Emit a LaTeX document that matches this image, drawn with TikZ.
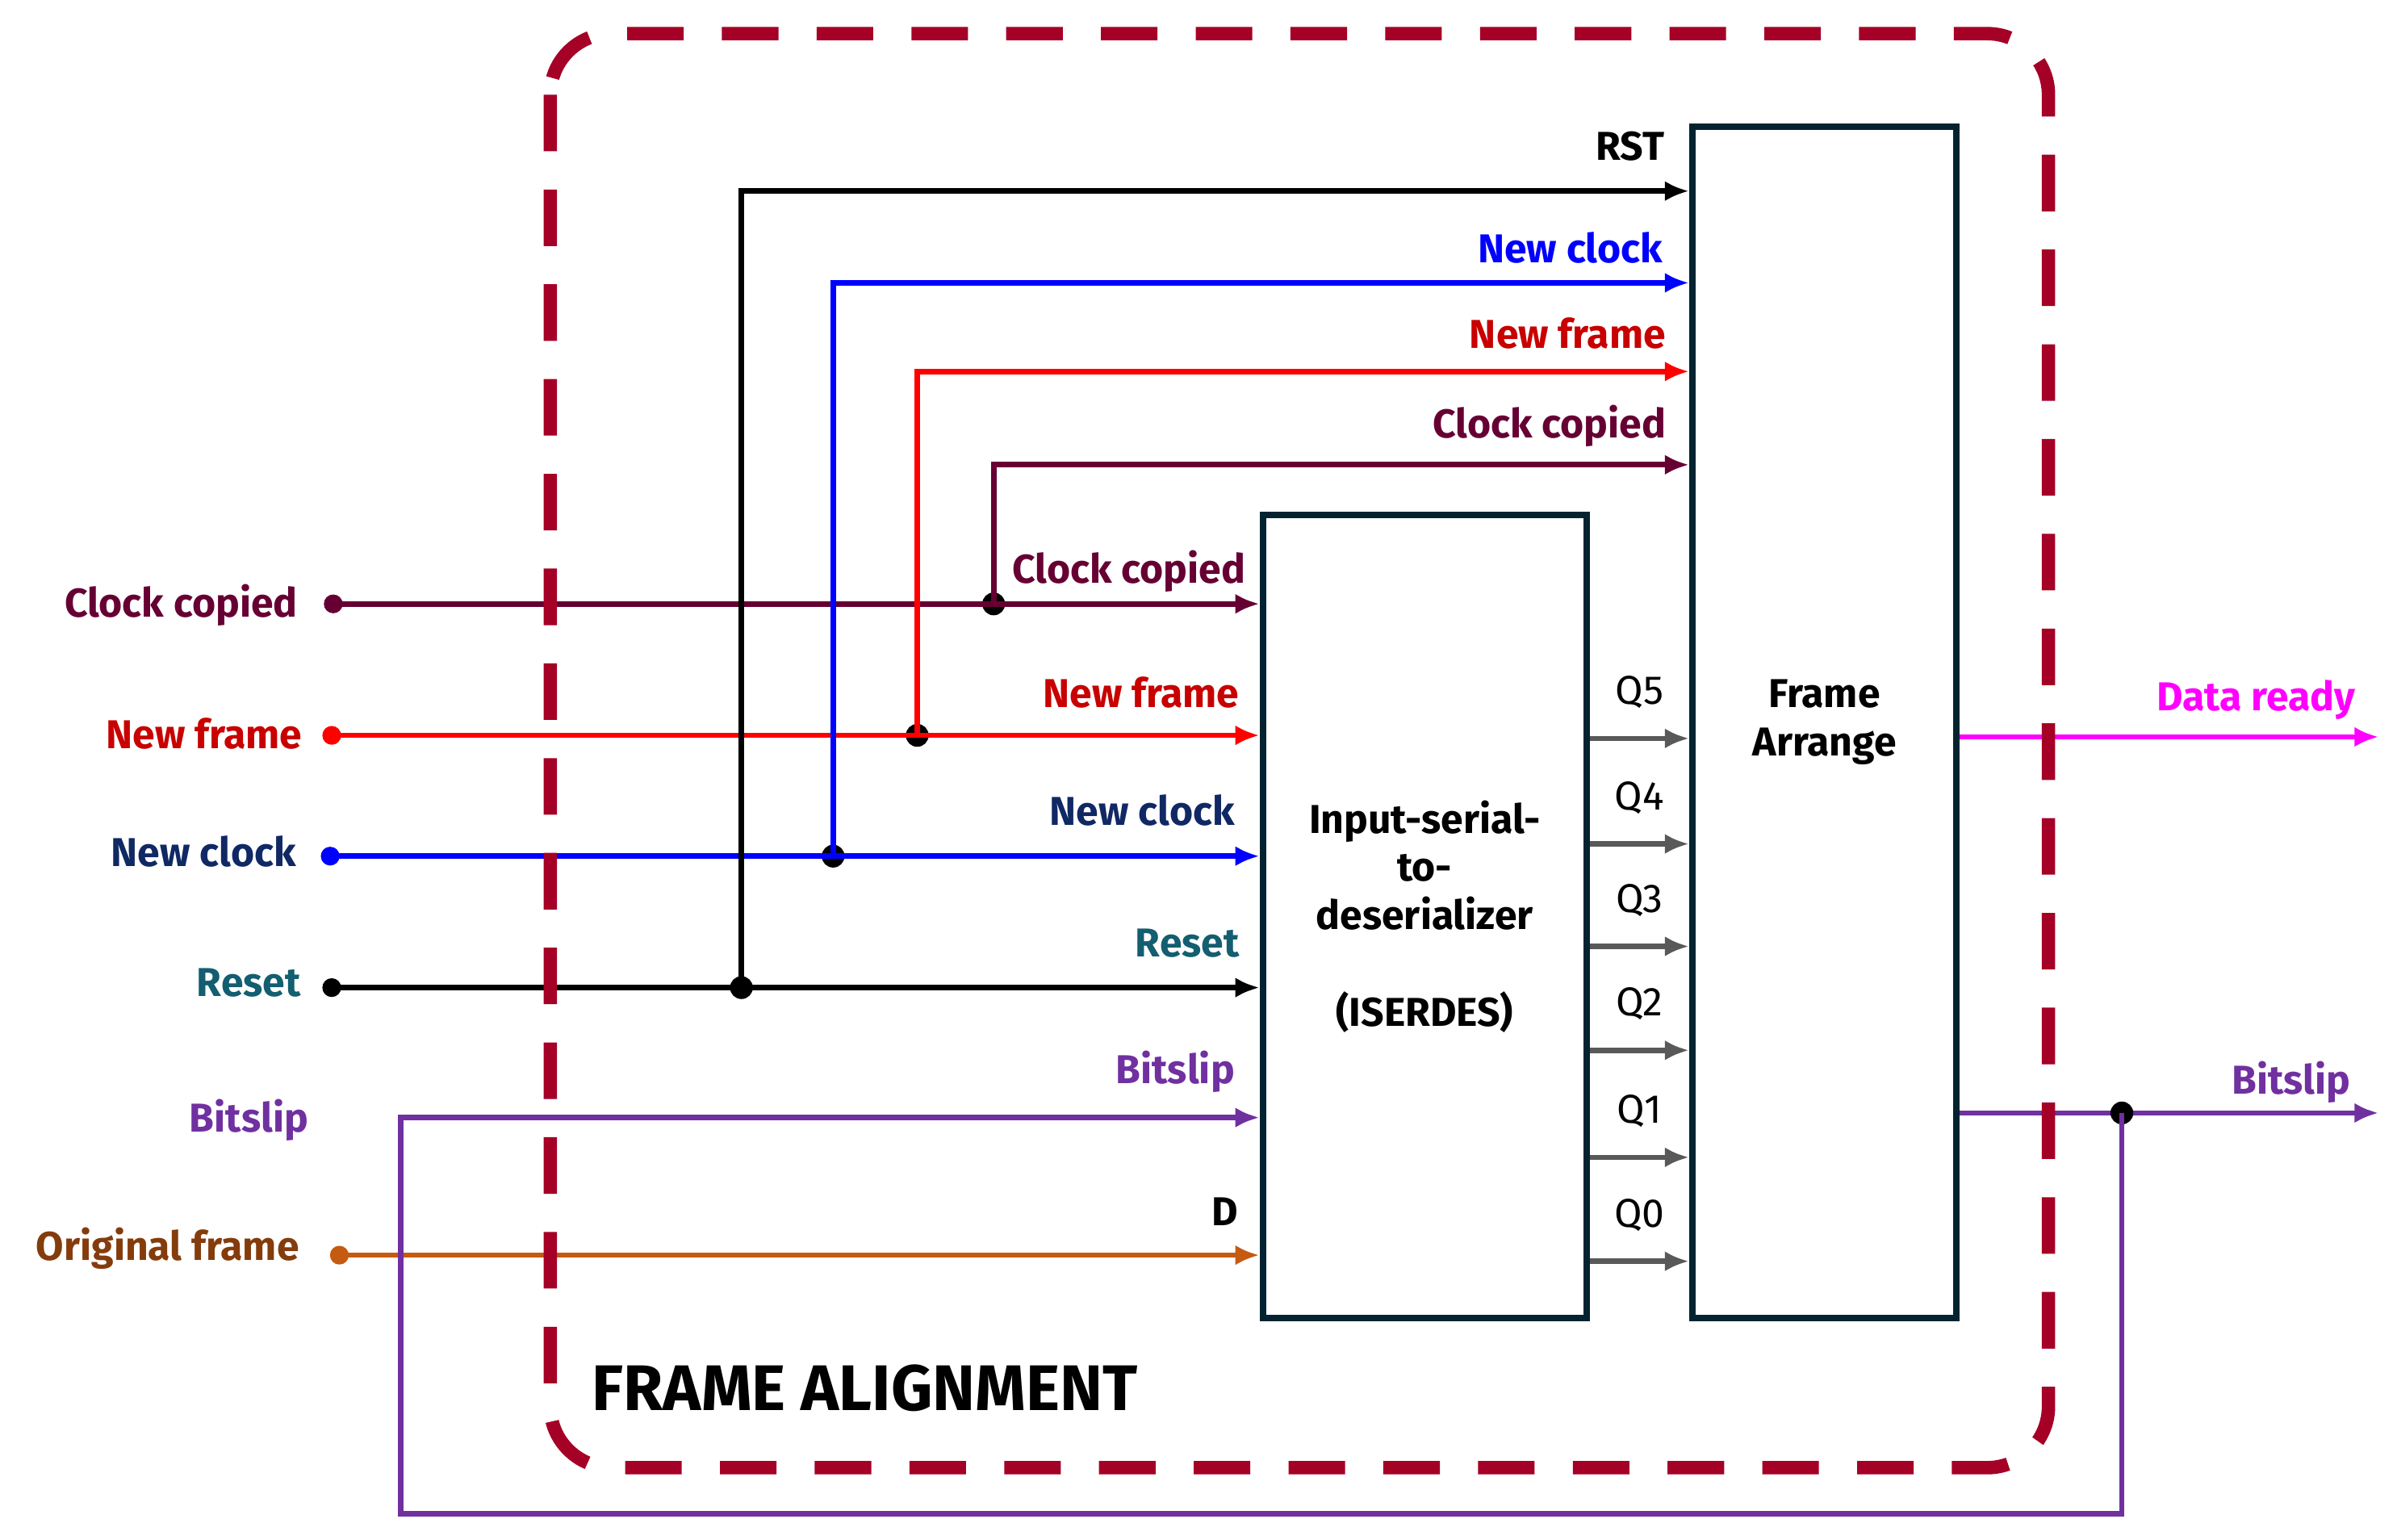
\documentclass[tikz,border=0pt]{standalone}
\usepackage{fontspec}
\setmainfont{Fira Sans}
\usepackage{xcolor}
\usetikzlibrary{arrows.meta,positioning}

\definecolor{alignred}{RGB}{165,0,38}
\definecolor{boxnavy}{RGB}{3,35,48}
\definecolor{clkcopy}{RGB}{102,0,51}
\definecolor{nfrlabel}{RGB}{200,0,0}
\definecolor{nclklabel}{RGB}{16,40,100}
\definecolor{rstlabel}{RGB}{19,94,112}
\definecolor{bslip}{RGB}{112,48,160}
\definecolor{origline}{RGB}{197,90,17}
\definecolor{origlabel}{RGB}{132,60,12}
\definecolor{qgray}{RGB}{89,89,89}
\definecolor{dready}{RGB}{255,0,255}

\begin{document}
\begin{tikzpicture}[x=0.02cm, y=-0.02cm,
    font=\fontsize{15}{18}\selectfont\bfseries,
    sig/.style={line width=2pt, -{Latex[length=9pt,width=7.5pt]}},
    block/.style={draw=boxnavy, line width=2.4pt, inner sep=0pt, align=center},
    junct/.style={circle, fill, inner sep=0pt, minimum size=8.5pt},
    lbl/.style={inner sep=0pt, anchor=mid east}]
    \useasboundingbox (0,0) rectangle (1568,1007);

    % Blocks
    \node[block, minimum width=4.24cm, minimum height=10.5cm] (iserdes) at (932,599.5)
        {Input-serial-\\to-\\deserializer\\~\\(ISERDES)};
    \node[block, minimum width=3.46cm, minimum height=15.58cm] (arrange) at (1193.5,472.5)
        {Frame\\Arrange};

    % Inputs
    \coordinate (cc-in) at (218,395);
    \coordinate (nf-in) at (217,481);
    \coordinate (nc-in) at (216,560);
    \coordinate (rs-in) at (217,646);
    \coordinate (of-in) at (222,821);
    \node[lbl, text=clkcopy] (cc-lbl) at (195,399) {Clock copied};
    \node[lbl, text=nfrlabel] (nf-lbl) at (198,485) {New frame};
    \node[lbl, text=nclklabel] (nc-lbl) at (194,562) {New clock};
    \node[lbl, text=rstlabel] (rs-lbl) at (197,647) {Reset};
    \node[lbl, text=bslip] (bs-lbl) at (202,736) {Bitslip};
    \node[lbl, text=origlabel] (of-lbl) at (196,820) {Original frame};

    % Branch points
    \node[junct] (cc-j) at (650,395) {};
    \node[junct] (nf-j) at (600,481) {};
    \node[junct] (nc-j) at (545,560) {};
    \node[junct] (rs-j) at (485,646) {};
    \coordinate (cc-top) at (650,304);
    \coordinate (nf-top) at (600,243);
    \coordinate (nc-top) at (545,185);
    \coordinate (rs-top) at (485,125);

    % Signals into the deserializer
    \draw[sig, clkcopy] (cc-in) -- (cc-in -| iserdes.west);
    \draw[sig, red] (nf-in) -- (nf-in -| iserdes.west);
    \draw[sig, blue] (nc-in) -- (nc-in -| iserdes.west);
    \draw[sig, black] (rs-in) -- (rs-in -| iserdes.west);
    \draw[sig, origline] (of-in) -- (of-in -| iserdes.west);
    \fill[clkcopy] (cc-in) circle (3.5pt);
    \fill[red] (nf-in) circle (3.5pt);
    \fill[blue] (nc-in) circle (3.5pt);
    \fill[black] (rs-in) circle (3.5pt);
    \fill[origline] (of-in) circle (3.5pt);
    \node[lbl, text=clkcopy] (cc-lbl2) at (815,377) {Clock copied};
    \node[lbl, text=nfrlabel] (nf-lbl2) at (811,458) {New frame};
    \node[lbl, text=nclklabel] (nc-lbl2) at (808,535) {New clock};
    \node[lbl, text=rstlabel] (rs-lbl2) at (811,621) {Reset};
    \node[lbl, text=bslip] (bs-lbl2) at (808,704) {Bitslip};
    \node[lbl] (d-lbl) at (810,797) {D};

    % Signals into the frame arrange block
    \draw[sig, clkcopy] (cc-j.center) -- (cc-top) -- (cc-top -| arrange.west);
    \draw[sig, red] (nf-j.center) -- (nf-top) -- (nf-top -| arrange.west);
    \draw[sig, blue] (nc-j.center) -- (nc-top) -- (nc-top -| arrange.west);
    \draw[sig, black] (rs-j.center) -- (rs-top) -- (rs-top -| arrange.west);
    \node[lbl] (rst-lbl3) at (1089,100) {RST};
    \node[lbl, text=blue] (nc-lbl3) at (1088,167) {New clock};
    \node[lbl, text=nfrlabel] (nf-lbl3) at (1090,223) {New frame};
    \node[lbl, text=clkcopy] (cc-lbl3) at (1090,282) {Clock copied};

    % Parallel outputs
    \foreach \q/\yy in {5/483,4/552,3/619,2/687,1/757,0/825}
        \draw[sig, qgray] (iserdes.east |- 0,\yy) -- (arrange.west |- 0,\yy)
            node[midway, anchor=mid, yshift=0.54cm, text=black,
                 font=\fontsize{15}{18}\selectfont\mdseries] (q\q) {Q\q};

    % Outputs
    \coordinate (dr-out) at (1556,482);
    \coordinate (bs-out) at (1556,728);
    \coordinate (bs-loop) at (262,990);
    \draw[sig, dready] (arrange.east |- dr-out) -- (dr-out);
    \node[lbl, text=dready] (dr-lbl) at (1541,460) {Data ready};
    \draw[sig, bslip] (arrange.east |- bs-out) -- (bs-out);
    \node[junct] (bs-j) at (1388,728) {};
    \draw[sig, bslip] (bs-j.center) |- (bs-loop) |- (iserdes.west |- 0,731);
    \node[lbl, text=bslip] (bs-lbl3) at (1538,711) {Bitslip};

    % Boundary
    \draw[alignred, line width=5pt, dash pattern=on 0.74cm off 0.5cm, rounded corners=0.8cm]
        (360,22) rectangle (1340,960);
    \node[anchor=mid west, inner sep=0pt, font=\fontsize{24}{28}\selectfont\bfseries] (fa-title) at (387,918) {FRAME ALIGNMENT};
\end{tikzpicture}
\end{document}
